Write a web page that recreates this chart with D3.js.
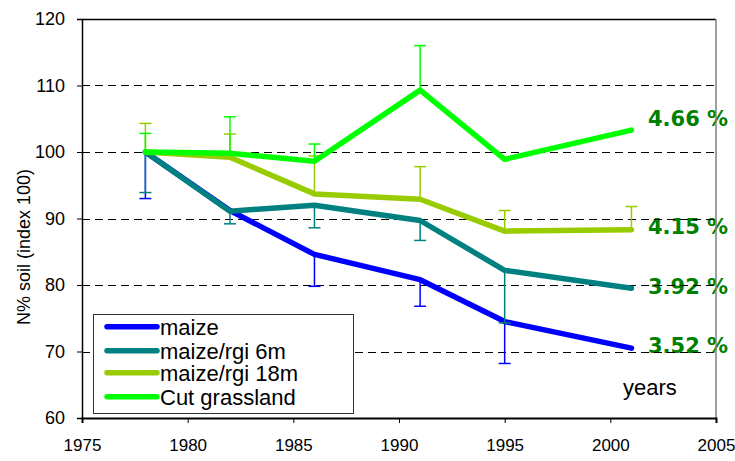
<!DOCTYPE html>
<html>
<head>
<meta charset="utf-8">
<script src="https://cdn.jsdelivr.net/npm/d3@7"></script>
<style>
  html, body { margin: 0; padding: 0; background: #fff; }
  svg { display: block; }
</style>
</head>
<body>
<div id="chart"></div>
<script>
// ---- data ----
const years = [1978, 1982, 1986, 1991, 1995, 2001];
const seriesNames = ["maize", "maize/rgi 6m", "maize/rgi 18m", "Cut grassland"];
const seriesColors = ["#0000FF", "#008080", "#99CC00", "#00FF00"];
const maize        = [100, 91.2, 84.6, 80.8, 74.5, 70.5];
const maizeRgi6m   = [100, 91.1, 92.0, 89.7, 82.2, 79.5];
const maizeRgi18m  = [100, 99.2, 93.7, 92.9, 88.1, 88.3];
const cutGrassland = [100, 99.8, 98.6, 109.3, 98.9, 103.3];
// error bar end values (null = none); lower for maize series, upper for others
const maizeErr        = [93.0, null, 79.8, 76.8, 68.2, null];
const maizeRgi6mErr   = [93.9, 89.2, 88.6, 86.7, 74.3, null];
const maizeRgi18mErr  = [104.3, 102.7, 99.4, 97.8, 91.2, 91.8];
const cutGrasslandErr = [102.8, 105.3, 101.2, 116.0, null, null];
const endLabels = ["3.52 %", "3.92 %", "4.15 %", "4.66 %"];
const endLabelY = [353.3, 294, 234.3, 126];  // baseline pixel positions
const xTicks = [1975, 1980, 1985, 1990, 1995, 2000, 2005];
const yTicks = [60, 70, 80, 90, 100, 110, 120];
const gridValues = [70, 80, 90, 100, 110];
const yLabel = "N% soil (index 100)";
const xLabel = "years";

const allValues = [maize, maizeRgi6m, maizeRgi18m, cutGrassland];
const allErrs = [maizeErr, maizeRgi6mErr, maizeRgi18mErr, cutGrasslandErr];

const W = 735, H = 461;
const L = 82, R = 716, T = 19, B = 418;

const svg = d3.select("#chart").append("svg").attr("width", W).attr("height", H);

const x = d3.scaleLinear().domain([1975, 2005]).range([L, R]);
const y = d3.scaleLinear().domain([60, 120]).range([B, T]);

const font = "Liberation Sans, Arial, sans-serif";

// end labels (under gridlines)
svg.append("g").selectAll("text").data(endLabels).join("text")
  .attr("x", 648).attr("y", (d, i) => endLabelY[i])
  .attr("font-family", "DejaVu Sans, Verdana, sans-serif")
  .attr("font-weight", "bold").attr("font-size", 21)
  .attr("fill", "#008000").text(d => d);

// gridlines
svg.append("g").selectAll("line").data(gridValues).join("line")
  .attr("x1", L).attr("x2", R)
  .attr("y1", d => Math.round(y(d)) + 0.5).attr("y2", d => Math.round(y(d)) + 0.5)
  .attr("stroke", "#000").attr("stroke-width", 1).attr("stroke-dasharray", "8,5");

// top border and right border
svg.append("line").attr("x1", L).attr("x2", R).attr("y1", T + 0.5).attr("y2", T + 0.5)
  .attr("stroke", "#000").attr("stroke-width", 1.5);
svg.append("line").attr("x1", R).attr("x2", R).attr("y1", T).attr("y2", B)
  .attr("stroke", "#808080").attr("stroke-width", 1.5);

// axes
const xAxis = d3.axisBottom(x).tickValues(xTicks).tickFormat(d3.format("d")).tickSize(5).tickPadding(16);
const gx = svg.append("g").attr("transform", `translate(0,${B})`).call(xAxis);
gx.select(".domain").attr("stroke-width", 2);
gx.selectAll("text").style("font-family", font).style("font-size", "17px").attr("fill", "#000");

const yAxis = d3.axisLeft(y).tickValues(yTicks).tickSize(5).tickPadding(12);
const gy = svg.append("g").attr("transform", `translate(${L},0)`).call(yAxis);
gy.select(".domain").attr("stroke-width", 1.5);
gy.selectAll("text").style("font-family", font).style("font-size", "18px").attr("fill", "#000");

// series lines and error bars
const line = d3.line().x((d, i) => x(years[i])).y(d => y(d));
allValues.forEach((vals, s) => {
  const g = svg.append("g");
  const errs = allErrs[s];
  const eb = years.map((yr, i) => ({ yr, v: vals[i], e: errs[i] })).filter(d => d.e !== null);
  g.selectAll("line.eb").data(eb).join("line")
    .attr("x1", d => x(d.yr)).attr("x2", d => x(d.yr))
    .attr("y1", d => y(d.v)).attr("y2", d => y(d.e))
    .attr("stroke", seriesColors[s]).attr("stroke-width", 1.5);
  g.selectAll("line.cap").data(eb).join("line")
    .attr("x1", d => x(d.yr) - 6).attr("x2", d => x(d.yr) + 6)
    .attr("y1", d => y(d.e)).attr("y2", d => y(d.e))
    .attr("stroke", seriesColors[s]).attr("stroke-width", 1.5);
  g.append("path").datum(vals).attr("d", line)
    .attr("fill", "none").attr("stroke", seriesColors[s]).attr("stroke-width", 5.5)
    .attr("stroke-linejoin", "round").attr("stroke-linecap", "round");
});

// legend
const lg = svg.append("g");
lg.append("rect").attr("x", 93.5).attr("y", 314.5).attr("width", 260).attr("height", 99)
  .attr("fill", "#fff").attr("stroke", "#333").attr("stroke-width", 1);
const rowY = [326.7, 350.7, 372.7, 396.7];
seriesNames.forEach((n, i) => {
  lg.append("line").attr("x1", 107).attr("x2", 157).attr("y1", rowY[i]).attr("y2", rowY[i])
    .attr("stroke", seriesColors[i]).attr("stroke-width", 5.5).attr("stroke-linecap", "round");
  lg.append("text").attr("x", 160).attr("y", rowY[i] + 8)
    .style("font-family", font).style("font-size", "22px").attr("fill", "#000").text(n);
});

// axis titles
svg.append("text").attr("transform", `translate(30,247) rotate(-90)`)
  .attr("text-anchor", "middle").style("font-family", font).style("font-size", "18px")
  .attr("fill", "#000").text(yLabel);
svg.append("text").attr("x", 623).attr("y", 395)
  .style("font-family", font).style("font-size", "22px").attr("fill", "#000").text(xLabel);
</script>
</body>
</html>
